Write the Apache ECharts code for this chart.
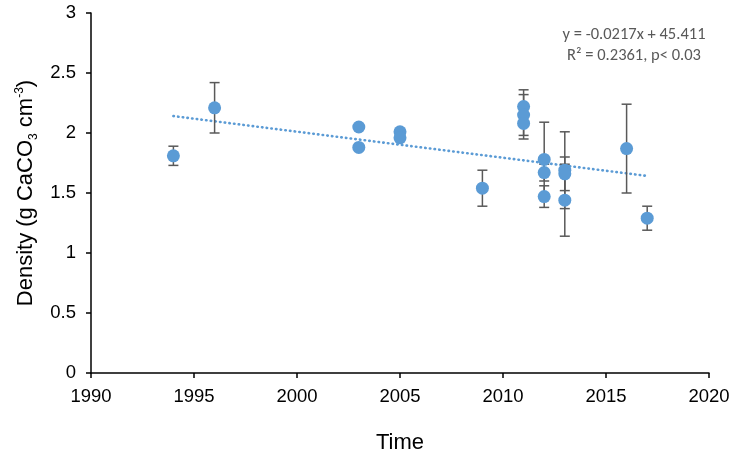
<!DOCTYPE html>
<html>
<head>
<meta charset="utf-8">
<script src="https://cdn.jsdelivr.net/npm/echarts@6/dist/echarts.min.js"></script>
<style>html,body{margin:0;padding:0;background:#fff}#c{width:736px;height:459px}</style>
</head>
<body>
<div id="c"></div>
<script>
// Observations: year, density, error (±)
var years   = [1994, 1996, 2003, 2003, 2005, 2005, 2009, 2011, 2011, 2011, 2012, 2012, 2012, 2013, 2013, 2013, 2016, 2017];
var density = [1.81, 2.21, 2.05, 1.88, 2.01, 1.96, 1.54, 2.22, 2.15, 2.08, 1.78, 1.67, 1.47, 1.69, 1.66, 1.44, 1.87, 1.29];
var errors  = [0.08, 0.21, 0.00, 0.00, 0.00, 0.00, 0.15, 0.14, 0.17, 0.13, 0.31, 0.07, 0.09, 0.32, 0.14, 0.30, 0.37, 0.10];
// Linear trend y = -0.0217x + 45.411, endpoints
var trendX = [1994, 2017];
var trendY = [2.141, 1.642];
var xTicks = [1990, 1995, 2000, 2005, 2010, 2015, 2020];
var yTicks = [0, 0.5, 1, 1.5, 2, 2.5, 3];
var eqLine1 = 'y = -0.0217x + 45.411';
var eqLine2 = 'R² = 0.2361, p< 0.03';

var pts = years.map(function (y, i) { return [y, density[i]]; });
var errData = years.map(function (y, i) { return [y, density[i] - errors[i], density[i] + errors[i]]; });
var trend = trendX.map(function (x, i) { return [x, trendY[i]]; });

var chart = echarts.init(document.getElementById('c'));
var font = 'Liberation Sans, Arial, sans-serif';
var eqStyle = { fontFamily: 'Carlito, Open Sans, sans-serif', fontSize: 16.5, fill: '#595959', align: 'center', verticalAlign: 'middle', textAlign: 'center', textVerticalAlign: 'middle' };
chart.setOption({
  animation: false,
  grid: { left: 91, right: 27, top: 13, bottom: 86, containLabel: false, outerBoundsMode: 'none' },
  xAxis: {
    type: 'value', min: xTicks[0], max: xTicks[xTicks.length - 1], interval: 5,
    name: 'Time', nameLocation: 'middle', nameGap: 59,
    nameTextStyle: { fontFamily: font, fontSize: 22, color: '#000' },
    axisLine: { lineStyle: { color: '#000', width: 1.5 } },
    axisTick: { show: true, length: 5, lineStyle: { color: '#000', width: 1.5 } },
    axisLabel: { fontFamily: font, fontSize: 18.5, color: '#000', margin: 14, formatter: function (v) { return String(v); } },
    splitLine: { show: false }
  },
  yAxis: {
    type: 'value', min: yTicks[0], max: yTicks[yTicks.length - 1], interval: 0.5,
    name: '{a|Density (g CaCO}{sub|3}{a| cm}{sup|-3}{a|)}',
    nameLocation: 'middle', nameRotate: 90, nameGap: 48,
    nameTextStyle: {
      fontFamily: font, fontSize: 22, color: '#000',
      rich: {
        a: { fontFamily: font, fontSize: 22, color: '#000', lineHeight: 26, verticalAlign: 'middle' },
        sub: { fontFamily: font, fontSize: 12, color: '#000', lineHeight: 26, verticalAlign: 'bottom' },
        sup: { fontFamily: font, fontSize: 12, color: '#000', lineHeight: 26, verticalAlign: 'top' }
      }
    },
    axisLine: { show: true, lineStyle: { color: '#000', width: 1.5 } },
    axisTick: { show: true, length: 5, lineStyle: { color: '#000', width: 1.5 } },
    axisLabel: { fontFamily: font, fontSize: 18.5, color: '#000', margin: 15 },
    splitLine: { show: false }
  },
  series: [
    {
      type: 'line', data: trend, symbol: 'none', z: 1,
      lineStyle: { color: '#5B9BD5', width: 2.6, type: [0.5, 4.2], cap: 'round' }
    },
    {
      type: 'custom', data: errData, z: 2,
      renderItem: function (params, api) {
        var x = api.value(0), lo = api.value(1), hi = api.value(2);
        if (hi - lo < 1e-6) return null;
        var pLo = api.coord([x, lo]), pHi = api.coord([x, hi]);
        var w = 5;
        var st = { stroke: '#595959', lineWidth: 1.5 };
        return {
          type: 'group',
          children: [
            { type: 'line', shape: { x1: pLo[0], y1: pLo[1], x2: pHi[0], y2: pHi[1] }, style: st },
            { type: 'line', shape: { x1: pLo[0] - w, y1: pLo[1], x2: pLo[0] + w, y2: pLo[1] }, style: st },
            { type: 'line', shape: { x1: pHi[0] - w, y1: pHi[1], x2: pHi[0] + w, y2: pHi[1] }, style: st }
          ]
        };
      }
    },
    {
      type: 'scatter', data: pts, symbol: 'circle', symbolSize: 13, z: 3,
      itemStyle: { color: '#5B9BD5', opacity: 1 }
    }
  ],
  graphic: [
    { type: 'text', x: 634, y: 35, style: Object.assign({ text: eqLine1 }, eqStyle) },
    { type: 'text', x: 634, y: 56, style: Object.assign({ text: eqLine2 }, eqStyle) }
  ]
});
</script>
</body>
</html>
